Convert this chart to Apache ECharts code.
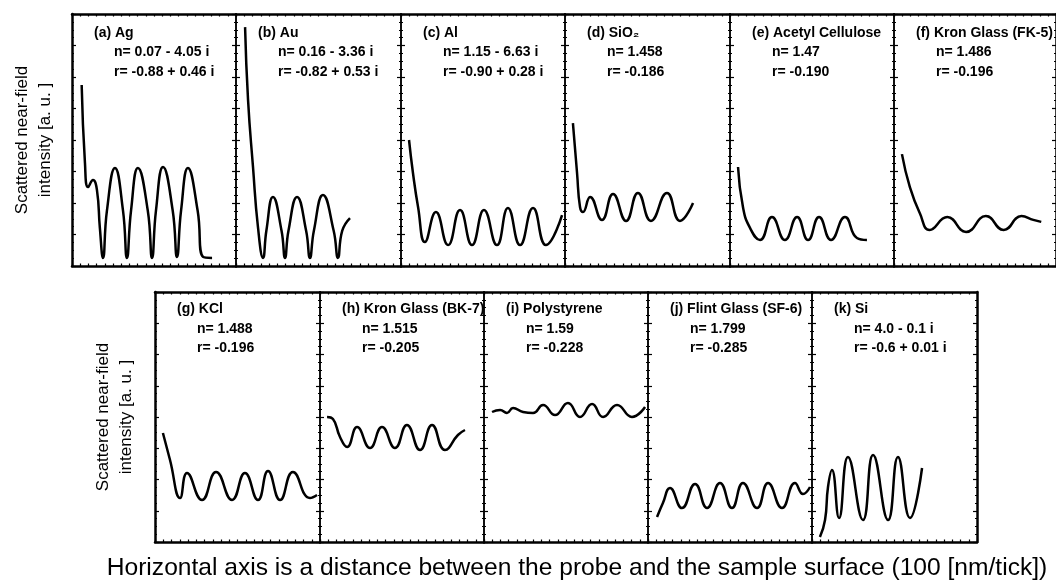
<!DOCTYPE html>
<html>
<head>
<meta charset="utf-8">
<script src="https://cdn.jsdelivr.net/npm/echarts@6/dist/echarts.min.js"></script>
<style>
  html, body { margin: 0; padding: 0; background: #fff; }
  #chart { width: 1056px; height: 583px; }
</style>
</head>
<body>
<div id="chart"></div>
<script>
// panel texts
const titles = ['(a) Ag', '(b) Au', '(c) Al', '(d) SiO₂', '(e) Acetyl Cellulose', '(f) Kron Glass (FK-5)',
  '(g) KCl', '(h) Kron Glass (BK-7)', '(i) Polystyrene', '(j) Flint Glass (SF-6)', '(k) Si'];
const nValues = ['0.07 - 4.05 i', '0.16 - 3.36 i', '1.15 - 6.63 i', '1.458', '1.47', '1.486',
  '1.488', '1.515', '1.59', '1.799', '4.0 - 0.1 i'];
const rValues = ['-0.88 + 0.46 i', '-0.82 + 0.53 i', '-0.90 + 0.28 i', '-0.186', '-0.190', '-0.196',
  '-0.196', '-0.205', '-0.228', '-0.285', '-0.6 + 0.01 i'];

// curves: [distance (% of panel), intensity (% of panel)]
const curveA = [[5.9, 71.8], [7.9, 40.9], [9.8, 31.3], [12.8, 34.1], [15.2, 30.2], [17.0, 15], [18.9, 3.2], [21.3, 22],
  [26.2, 38.9], [31.1, 22], [33.5, 3.2], [36.0, 22], [40.2, 38.9], [46.2, 22], [48.8, 3.2], [51.2, 22], [55.5, 39.3],
  [61.4, 22], [64.0, 3.6], [66.5, 22], [70.7, 38.9], [76.6, 22], [79.9, 3.6], [85.4, 3.2]];
const curveB = [[5.5, 94.8], [7.3, 65.9], [10.3, 39.3], [13.3, 15.5], [16.4, 3.2], [18.4, 14], [22.4, 27.4], [27.6, 14],
  [29.7, 3.2], [31.8, 14], [37.0, 27.4], [42.5, 14], [44.8, 3.2], [47.2, 14], [52.7, 28.2], [59.2, 14], [61.8, 3.2],
  [64.4, 14], [69.1, 19.0]];
const curveC = [[4.9, 50.0], [7.3, 36.9], [10.4, 23.4], [14.6, 9.5], [21.3, 21.4], [28.7, 8.3], [36.0, 22.2], [43.3, 8.3],
  [50.6, 22.2], [58.5, 8.3], [65.2, 23.0], [72.6, 8.3], [80.5, 23.0], [88.4, 8.3], [98.2, 20.2]];
const curveD = [[4.8, 56.7], [7.3, 36.9], [9.1, 23.4], [10.9, 21.4], [15.2, 27.4], [22.4, 18.3], [29.1, 28.6], [37.0, 17.9],
  [44.2, 29.0], [52.1, 17.9], [61.8, 29.0], [69.7, 17.9], [77.6, 25.0]];
const curveE = [[4.9, 39.3], [7.9, 23.4], [12.2, 15.1], [18.3, 10.3], [25.6, 19.4], [33.5, 10.3], [40.9, 19.4], [47.6, 10.3],
  [54.3, 19.4], [61.6, 10.3], [70.1, 19.4], [77.4, 11.1], [83.5, 10.3]];
const curveF = [[4.9, 44.4], [9.8, 31.3], [15.9, 21.0], [22.0, 14.3], [32.9, 19.4], [44.5, 13.5], [56.7, 19.8], [67.7, 14.3],
  [78.7, 19.8], [86.0, 18.3], [90.9, 17.5]];
const curveG = [[4.8, 43.6], [9.1, 32.8], [15.2, 17.6], [19.4, 27.6], [28.5, 16.8], [37.0, 28.0], [46.7, 16.8], [54.5, 27.6],
  [62.4, 16.8], [68.5, 28.4], [75.8, 16.8], [83.6, 28.0], [93.9, 17.6], [98.2, 18.8]];
const curveH = [[4.3, 50.0], [7.9, 49.2], [12.2, 42.0], [16.5, 38.0], [22.6, 46.0], [30.5, 37.6], [37.8, 46.0], [45.7, 37.6],
  [53.0, 46.8], [61.0, 36.8], [68.3, 46.8], [76.2, 36.8], [84.1, 42.8], [88.4, 44.8]];
const curveI = [[4.9, 52.0], [9.8, 52.8], [14.0, 51.6], [17.7, 53.6], [23.8, 52.0], [29.9, 51.6], [36.0, 54.8], [43.3, 50.8],
  [51.2, 55.6], [58.5, 50.0], [65.9, 55.2], [72.6, 50.0], [81.1, 54.8], [90.2, 50.0], [98.2, 54.0]];
const curveJ = [[5.5, 10.0], [9.1, 15.6], [13.4, 21.6], [20.7, 13.6], [28.7, 23.2], [36.0, 13.6], [43.9, 23.6], [51.2, 13.6],
  [57.9, 23.6], [66.5, 13.6], [73.2, 23.6], [81.7, 13.6], [89.6, 23.6], [94.5, 19.2], [98.8, 22.0]];
const curveK = [[4.8, 2.0], [7.9, 8.8], [9.7, 22.0], [12.1, 28.8], [16.4, 9.6], [21.8, 34.0], [30.9, 8.8], [37.0, 34.8],
  [46.1, 8.8], [52.1, 34.0], [59.4, 9.6], [66.7, 29.6]];
const curves = [curveA, curveB, curveC, curveD, curveE, curveF, curveG, curveH, curveI, curveJ, curveK];

// layout of the two rows (px)
const rows = [
  { top: 14, height: 252, edges: [72, 236, 401, 565, 730, 894, 1058], textY: [33, 52, 72] },
  { top: 292, height: 250, edges: [155, 320, 484, 648, 812, 977], textY: [309, 329, 348] },
];

const grids = [], xAxes = [], yAxes = [], series = [], graphic = [];
const labelFont = { fontFamily: 'Liberation Sans', fontWeight: 'bold', fontSize: 14, fill: '#000' };

let idx = 0;
rows.forEach((row) => {
  const count = row.edges.length - 1;
  for (let p = 0; p < count; p++) {
    const left = row.edges[p];
    const width = row.edges[p + 1] - left;
    grids.push({ left, top: row.top, width, height: row.height });
    const frame = (outer) => ({ show: true, onZero: false, lineStyle: { color: '#000', width: outer ? 2.5 : 1.5 } });
    const tick = (len) => ({ show: true, inside: true, length: len, lineStyle: { color: '#000', width: 1.2 } });
    ['bottom', 'top'].forEach((pos) => {
      xAxes.push({
        gridIndex: idx, type: 'value', position: pos, min: 0, max: 100, interval: 5,
        axisLine: frame(true), axisTick: tick(2.5), axisLabel: { show: false }, splitLine: { show: false },
      });
    });
    ['left', 'right'].forEach((pos) => {
      const outer = (pos === 'left' && p === 0) || (pos === 'right' && p === count - 1);
      yAxes.push({
        gridIndex: idx, type: 'value', position: pos, min: 0, max: 100, interval: 12.5,
        axisLine: frame(outer), axisTick: tick(4),
        minorTick: { show: true, splitNumber: 4, length: 2, lineStyle: { color: '#000', width: 1.2 } },
        axisLabel: { show: false }, splitLine: { show: false },
      });
    });
    series.push({
      type: 'line', xAxisIndex: idx * 2, yAxisIndex: idx * 2, data: curves[idx],
      smooth: true, showSymbol: false, lineStyle: { color: '#000', width: 2.5 },
    });
    graphic.push({ type: 'text', x: left + 22, y: row.textY[0], style: { ...labelFont, text: titles[idx], verticalAlign: 'middle' } });
    graphic.push({ type: 'text', x: left + 42, y: row.textY[1], style: { ...labelFont, text: 'n= ' + nValues[idx], verticalAlign: 'middle' } });
    graphic.push({ type: 'text', x: left + 42, y: row.textY[2], style: { ...labelFont, text: 'r= ' + rValues[idx], verticalAlign: 'middle' } });
    idx++;
  }
});

// axis titles
const yTitleStyle = { fontFamily: 'Liberation Sans', fontSize: 17, fill: '#000', align: 'center', verticalAlign: 'middle' };
[[22, 45, 140], [103, 126, 417]].forEach(([x1, x2, cy]) => {
  graphic.push({ type: 'text', x: x1, y: cy, rotation: Math.PI / 2, style: { ...yTitleStyle, text: 'Scattered near-field' } });
  graphic.push({ type: 'text', x: x2, y: cy, rotation: Math.PI / 2, style: { ...yTitleStyle, text: 'intensity [a. u. ]' } });
});
graphic.push({
  type: 'text', x: 577, y: 568,
  style: { fontFamily: 'Liberation Sans', fontSize: 24.6, fill: '#000', align: 'center', verticalAlign: 'middle',
    text: 'Horizontal axis is a distance between the probe and the sample surface (100 [nm/tick])' },
});

const chart = echarts.init(document.getElementById('chart'), null, { renderer: 'canvas' });
chart.setOption({
  animation: false,
  backgroundColor: '#fff',
  grid: grids,
  xAxis: xAxes,
  yAxis: yAxes,
  series,
  graphic,
});
</script>
</body>
</html>
